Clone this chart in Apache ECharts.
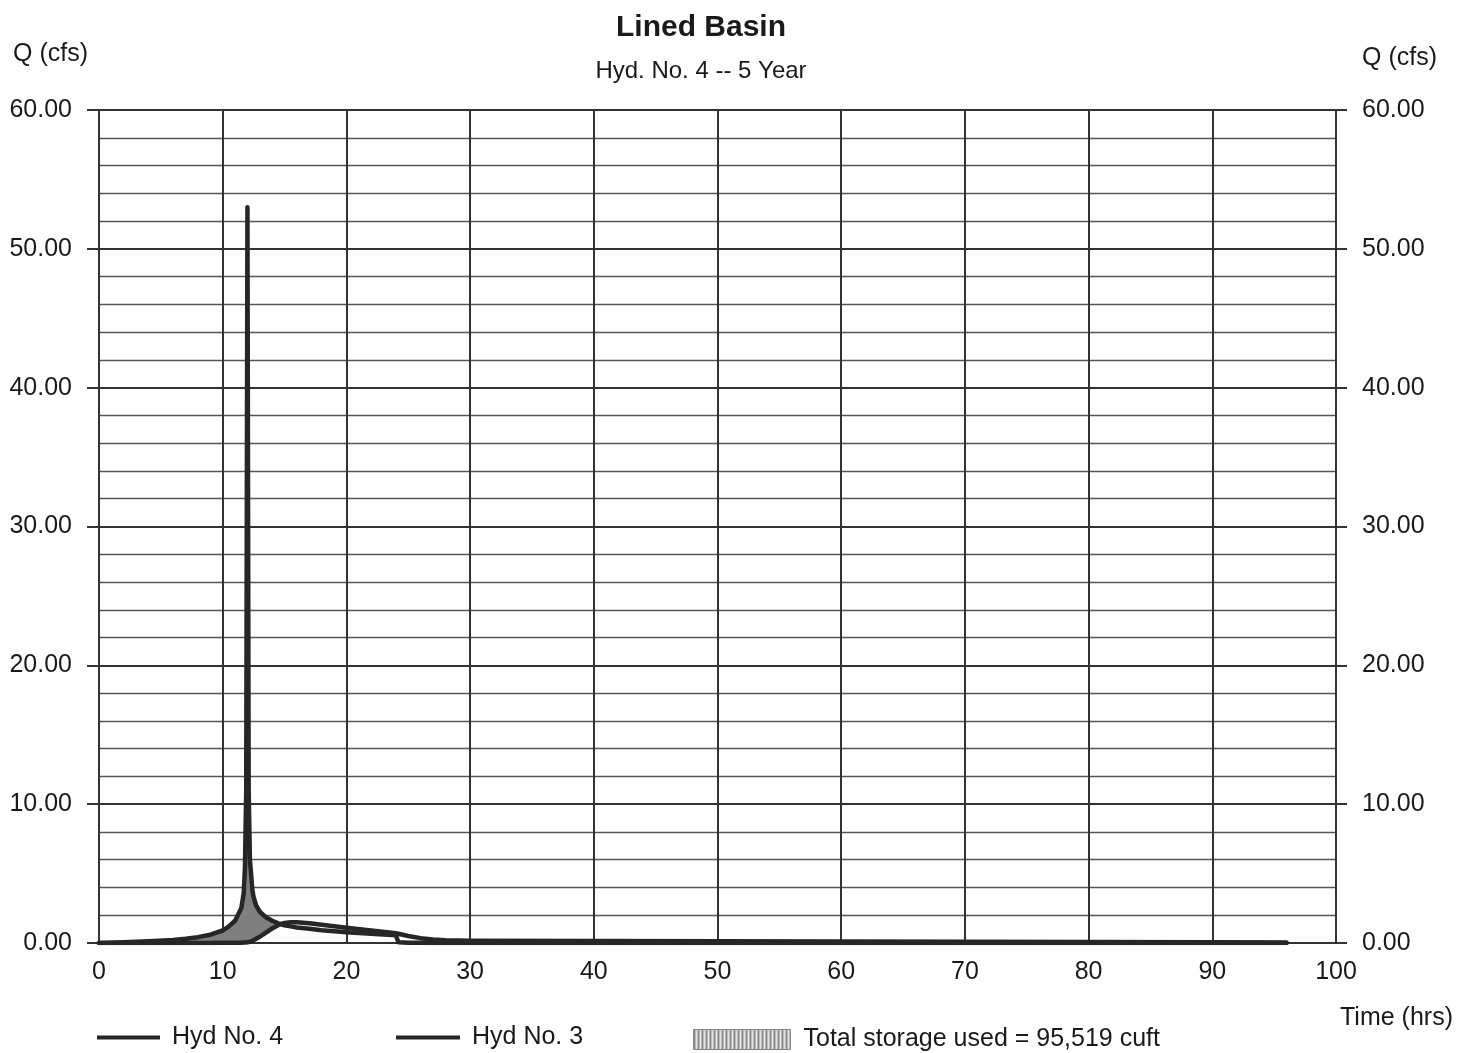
<!DOCTYPE html>
<html><head><meta charset="utf-8">
<script src="https://cdn.jsdelivr.net/npm/echarts@6/dist/echarts.min.js"></script>
<style>html,body{margin:0;padding:0;background:#fff}#chart{width:1464px;height:1053px}</style>
</head><body><div id="chart"></div>
<script>
const titleText = 'Lined Basin';
const subtitleText = 'Hyd. No. 4 -- 5 Year';
const yAxisName = 'Q (cfs)';
const xAxisName = 'Time (hrs)';
const hyd4Name = 'Hyd No. 4';
const hyd3Name = 'Hyd No. 3';
const storageName = 'Total storage used = 95,519 cuft';

// time (hrs)
const timeHrs = [0,2,4,6,7, 8,9,10,10.5,11, 11.5,11.7,11.8,11.9,12, 12.1,12.2,12.4,12.5,12.7, 13,13.5,14,14.5,15, 15.5,16,17,18,20, 22,24,24.2,25,26, 27,28,30,40,50, 60,70,80,90,96];
// Hyd No. 3 (inflow), cfs
const hyd3Flow = [0,0.05,0.12,0.22,0.3, 0.42,0.6,0.9,1.2,1.6, 2.5,3.6,5.5,11,53, 11,6,3.8,3.3,2.7, 2.25,1.85,1.6,1.42,1.28, 1.2,1.12,1.02,0.92,0.78, 0.66,0.55,0.05,0.02,0.01, 0,0,0,0,0, 0,0,0,0,0];
// Hyd No. 4 (outflow), cfs
const hyd4Flow = [0,0,0,0,0, 0,0,0.01,0.01,0.01, 0.02,0.03,0.03,0.04,0.05, 0.07,0.1,0.16,0.2,0.3, 0.45,0.75,1.05,1.3,1.45, 1.5,1.5,1.42,1.32,1.1, 0.9,0.7,0.67,0.5,0.35, 0.25,0.2,0.17,0.14,0.12, 0.1,0.09,0.07,0.05,0.04];

const FONT = 'Liberation Sans, Arial, sans-serif';
const LINE = '#262626';
const FILL = '#7f7f7f';

const pair = (arr) => timeHrs.map((t, i) => [t, arr[i]]);

// striped swatch for storage legend
const pc = document.createElement('canvas');
pc.width = 4; pc.height = 4;
const pctx = pc.getContext('2d');
pctx.fillStyle = '#e4e4e4'; pctx.fillRect(0, 0, 4, 4);
pctx.fillStyle = '#8c8c8c'; pctx.fillRect(0, 0, 2, 4);

const chart = echarts.init(document.getElementById('chart'), null, {renderer: 'canvas'});
const labelStyle = {fontFamily: FONT, fontSize: 25, color: '#1a1a1a'};

// storage region: between inflow (upper) and outflow (lower) where inflow exceeds outflow
function renderStorage(params, api) {
  if (params.dataIndex !== 0) return null;
  const upper = timeHrs.map((t, i) => api.coord([t, Math.max(hyd3Flow[i], hyd4Flow[i])]));
  const lower = timeHrs.map((t, i) => api.coord([t, hyd4Flow[i]])).reverse();
  return {
    type: 'polygon',
    shape: {points: upper.concat(lower)},
    style: {fill: FILL, stroke: null}
  };
}

chart.setOption({
  animation: false,
  backgroundColor: '#fff',
  title: {
    text: titleText, subtext: subtitleText,
    left: 696, top: 8, textAlign: 'center', itemGap: 16,
    textStyle: {fontFamily: FONT, fontSize: 30, fontWeight: 'bold', color: '#1a1a1a'},
    subtextStyle: {fontFamily: FONT, fontSize: 24, color: '#1a1a1a'}
  },
  grid: {left: 99, right: 128, top: 110, bottom: 110, containLabel: false},
  legend: [
    {left: 97, top: 1025, padding: 0, icon: 'rect', itemWidth: 63, itemHeight: 4, data: [hyd4Name],
     textStyle: Object.assign({}, labelStyle, {padding: [0, 0, 0, 7]})},
    {left: 396, top: 1025, padding: 0, icon: 'rect', itemWidth: 64, itemHeight: 4, data: [hyd3Name],
     textStyle: Object.assign({}, labelStyle, {padding: [0, 0, 0, 7]})},
    {left: 693, top: 1027, padding: 0, icon: 'rect', itemWidth: 97, itemHeight: 20,
     data: [{name: storageName, itemStyle: {color: {image: pc, repeat: 'repeat'}, borderColor: '#888', borderWidth: 1}}],
     textStyle: Object.assign({}, labelStyle, {padding: [0, 0, 0, 8]})}
  ],
  xAxis: {
    type: 'value', min: 0, max: 100, interval: 10,
    name: xAxisName, nameLocation: 'end', nameGap: 4,
    nameTextStyle: Object.assign({}, labelStyle, {align: 'left', verticalAlign: 'top', padding: [63, 0, 0, 0]}),
    axisLine: {show: true, onZero: false, lineStyle: {color: '#333', width: 2}},
    axisTick: {show: false},
    axisLabel: Object.assign({}, labelStyle, {margin: 17}),
    splitLine: {show: true, lineStyle: {color: '#333', width: 2}}
  },
  yAxis: [
    {
      type: 'value', min: 0, max: 60, interval: 10, position: 'left',
      name: yAxisName, nameLocation: 'end', nameGap: 43,
      nameTextStyle: Object.assign({}, labelStyle, {align: 'right', padding: [0, 11, 0, 0]}),
      axisLine: {show: true, lineStyle: {color: '#333', width: 2}},
      axisTick: {show: true, inside: false, length: 12, lineStyle: {color: '#333', width: 2}},
      axisLabel: Object.assign({}, labelStyle, {margin: 27, formatter: v => v.toFixed(2)}),
      splitLine: {show: true, lineStyle: {color: '#333', width: 2}},
      minorTick: {show: false, splitNumber: 5},
      minorSplitLine: {show: true, lineStyle: {color: '#555', width: 1.4}}
    },
    {
      type: 'value', min: 0, max: 60, interval: 10, position: 'right',
      name: yAxisName, nameLocation: 'end', nameGap: 39,
      nameTextStyle: Object.assign({}, labelStyle, {align: 'left', padding: [0, 0, 0, 26]}),
      axisLine: {show: true, lineStyle: {color: '#333', width: 2}},
      axisTick: {show: true, inside: false, length: 11, lineStyle: {color: '#333', width: 2}},
      axisLabel: Object.assign({}, labelStyle, {margin: 26, formatter: v => v.toFixed(2)}),
      splitLine: {show: false}
    }
  ],
  series: [
    {name: storageName, type: 'custom', renderItem: renderStorage, data: pair(hyd3Flow),
     itemStyle: {color: FILL}, silent: true, z: 2, clip: true},
    {name: hyd4Name, type: 'line', data: pair(hyd4Flow), symbol: 'none',
     itemStyle: {color: LINE}, lineStyle: {color: LINE, width: 4.5, join: 'round', cap: 'round'}, z: 3},
    {name: hyd3Name, type: 'line', data: pair(hyd3Flow), symbol: 'none',
     itemStyle: {color: LINE}, lineStyle: {color: LINE, width: 4.5, join: 'round', cap: 'round'}, z: 4}
  ]
});
</script></body></html>
